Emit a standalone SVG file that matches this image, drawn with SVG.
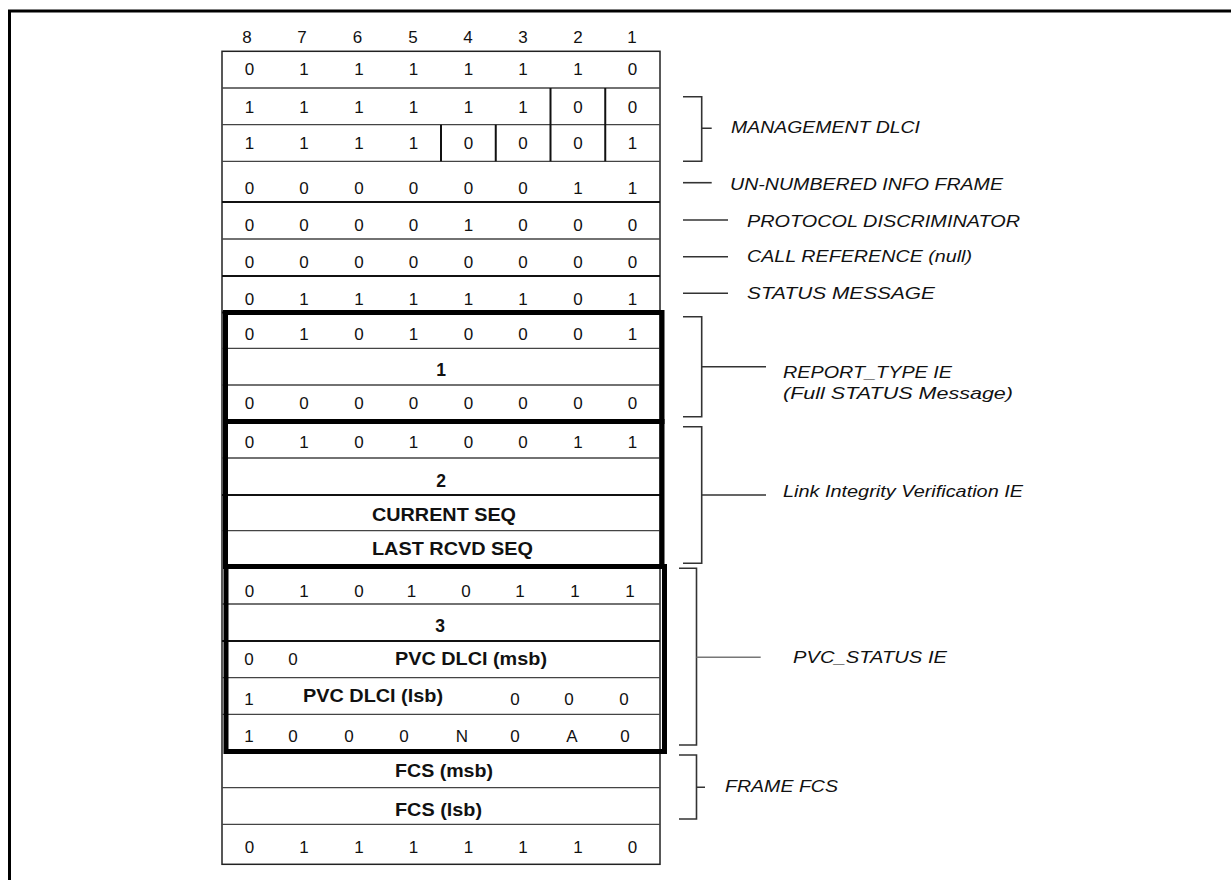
<svg xmlns="http://www.w3.org/2000/svg" width="1231" height="880" viewBox="0 0 1231 880">
<style>
.t{font-family:"Liberation Sans",Arial,sans-serif;font-size:17px;fill:#111;text-anchor:middle}
.b{font-weight:bold;font-size:17.5px}
.s{text-anchor:start}
.l{font-family:"Liberation Sans",Arial,sans-serif;font-size:16.5px;font-style:italic;fill:#111}
.rl{stroke:#444;stroke-width:1.3;fill:none}
.rd{stroke:#111;stroke-width:2;fill:none}
.bx{stroke:#000;stroke-width:5;fill:none}
.br{stroke:#333;stroke-width:1.6;fill:none}
</style>
<rect width="1231" height="880" fill="#fff"/>
<path id="frame" d="M9.5 880V11H1231" stroke="#000" stroke-width="3" fill="none"/>

<g id="header" class="t">
<text x="247" y="43">8</text><text x="302" y="43">7</text><text x="357.5" y="43">6</text><text x="413" y="43">5</text><text x="468" y="43">4</text><text x="523" y="43">3</text><text x="578" y="43">2</text><text x="632" y="43">1</text>
</g>

<g id="table">
<rect x="222" y="51.3" width="438" height="813" fill="none" stroke="#222" stroke-width="1.5"/>
<path class="rl" d="M222 88H660M222 124.7H660M222 161.3H660M222 239H660M222 348.3H660M222 385H660M222 458H660M222 530.7H660M222 604H660M222 677.7H660M222 714.3H660M222 787.7H660M222 824.3H660"/>
<path class="rd" d="M222 202H660M222 276H660M222 312.5H660M222 495H660M222 641H660"/>
<path class="rd" d="M550.5 88V161.3M605.25 88V161.3M441 124.7V161.3M495.75 124.7V161.3"/>
</g>

<g id="rows" class="t">
<g id="row1"><text x="249.4" y="75">0</text><text x="304.1" y="75">1</text><text x="358.9" y="75">1</text><text x="413.6" y="75">1</text><text x="468.4" y="75">1</text><text x="523.1" y="75">1</text><text x="577.9" y="75">1</text><text x="632.6" y="75">0</text></g>
<g id="row2"><text x="249.4" y="112.7">1</text><text x="304.1" y="112.7">1</text><text x="358.9" y="112.7">1</text><text x="413.6" y="112.7">1</text><text x="468.4" y="112.7">1</text><text x="523.1" y="112.7">1</text><text x="577.9" y="112.7">0</text><text x="632.6" y="112.7">0</text></g>
<g id="row3"><text x="249.4" y="149.3">1</text><text x="304.1" y="149.3">1</text><text x="358.9" y="149.3">1</text><text x="413.6" y="149.3">1</text><text x="468.4" y="149.3">0</text><text x="523.1" y="149.3">0</text><text x="577.9" y="149.3">0</text><text x="632.6" y="149.3">1</text></g>
<g id="row4"><text x="249.4" y="194">0</text><text x="304.1" y="194">0</text><text x="358.9" y="194">0</text><text x="413.6" y="194">0</text><text x="468.4" y="194">0</text><text x="523.1" y="194">0</text><text x="577.9" y="194">1</text><text x="632.6" y="194">1</text></g>
<g id="row5"><text x="249.4" y="230.7">0</text><text x="304.1" y="230.7">0</text><text x="358.9" y="230.7">0</text><text x="413.6" y="230.7">0</text><text x="468.4" y="230.7">1</text><text x="523.1" y="230.7">0</text><text x="577.9" y="230.7">0</text><text x="632.6" y="230.7">0</text></g>
<g id="row6"><text x="249.4" y="267.7">0</text><text x="304.1" y="267.7">0</text><text x="358.9" y="267.7">0</text><text x="413.6" y="267.7">0</text><text x="468.4" y="267.7">0</text><text x="523.1" y="267.7">0</text><text x="577.9" y="267.7">0</text><text x="632.6" y="267.7">0</text></g>
<g id="row7"><text x="249.4" y="304.5">0</text><text x="304.1" y="304.5">1</text><text x="358.9" y="304.5">1</text><text x="413.6" y="304.5">1</text><text x="468.4" y="304.5">1</text><text x="523.1" y="304.5">1</text><text x="577.9" y="304.5">0</text><text x="632.6" y="304.5">1</text></g>
</g>

<g id="report-type-ie" class="t">
<rect class="bx" x="225.5" y="312.5" width="436.5" height="109"/>
<text x="249.4" y="340">0</text><text x="304.1" y="340">1</text><text x="358.9" y="340">0</text><text x="413.6" y="340">1</text><text x="468.4" y="340">0</text><text x="523.1" y="340">0</text><text x="577.9" y="340">0</text><text x="632.6" y="340">1</text>
<text class="b" x="441" y="376">1</text>
<text x="249.4" y="409">0</text><text x="304.1" y="409">0</text><text x="358.9" y="409">0</text><text x="413.6" y="409">0</text><text x="468.4" y="409">0</text><text x="523.1" y="409">0</text><text x="577.9" y="409">0</text><text x="632.6" y="409">0</text>
</g>

<g id="link-integrity-ie" class="t">
<rect class="bx" x="225.5" y="421.5" width="436.5" height="145"/>
<text x="249.4" y="448">0</text><text x="304.1" y="448">1</text><text x="358.9" y="448">0</text><text x="413.6" y="448">1</text><text x="468.4" y="448">0</text><text x="523.1" y="448">0</text><text x="577.9" y="448">1</text><text x="632.6" y="448">1</text>
<text class="b" x="441" y="486.7">2</text>
<text class="b s" x="372" y="521" textLength="144" lengthAdjust="spacingAndGlyphs">CURRENT SEQ</text>
<text class="b s" x="372" y="555" textLength="161" lengthAdjust="spacingAndGlyphs">LAST RCVD SEQ</text>
</g>

<g id="pvc-status-ie" class="t">
<rect class="bx" x="226" y="566.5" width="438.5" height="185"/>
<text x="249.4" y="597">0</text><text x="304.1" y="597">1</text><text x="358.9" y="597">0</text><text x="411.5" y="597">1</text><text x="466" y="597">0</text><text x="520" y="597">1</text><text x="575" y="597">1</text><text x="630" y="597">1</text>
<text class="b" x="440" y="631.7">3</text>
<text x="249" y="665">0</text><text x="293" y="665">0</text>
<text class="b s" x="395" y="665" textLength="152" lengthAdjust="spacingAndGlyphs">PVC DLCI (msb)</text>
<text x="249" y="705">1</text>
<text class="b s" x="303" y="701.7" textLength="140" lengthAdjust="spacingAndGlyphs">PVC DLCI (lsb)</text>
<text x="515" y="705">0</text><text x="569" y="705">0</text><text x="624" y="705">0</text>
<text x="249" y="741.7">1</text><text x="293" y="741.7">0</text><text x="349" y="741.7">0</text><text x="404" y="741.7">0</text><text x="462" y="741.7">N</text><text x="515" y="741.7">0</text><text x="572" y="741.7">A</text><text x="625" y="741.7">0</text>
</g>

<g id="frame-fcs" class="t">
<text class="b s" x="395" y="776.7" textLength="98" lengthAdjust="spacingAndGlyphs">FCS (msb)</text>
<text class="b s" x="395" y="816" textLength="87" lengthAdjust="spacingAndGlyphs">FCS (lsb)</text>
</g>

<g id="row-last" class="t">
<text x="249.4" y="852.7">0</text><text x="304.1" y="852.7">1</text><text x="358.9" y="852.7">1</text><text x="413.6" y="852.7">1</text><text x="468.4" y="852.7">1</text><text x="523.1" y="852.7">1</text><text x="577.9" y="852.7">1</text><text x="632.6" y="852.7">0</text>
</g>

<g id="connectors" class="br">
<path d="M683 96.7H701.7V161.3H683M701.7 128.3H711.7"/>
<path d="M683 182.7H711.7"/>
<path d="M683 220H728"/>
<path d="M683 256.7H728"/>
<path d="M683 293.3H728"/>
<path d="M683 316.7H701.7V416.7H683M701.7 366.7H766"/>
<path d="M683 426.7H701.7V563.3H683M701.7 495H766"/>
<path d="M679 568.3H696.5V745H679"/>
<path d="M696.5 657.3H760.7" stroke="#777"/>
<path d="M679 755H696.5V819H679M696.5 787.3H705"/>
</g>

<g id="labels" class="l">
<text id="lbl-mgmt" x="731" y="133" textLength="189" lengthAdjust="spacingAndGlyphs">MANAGEMENT DLCI</text>
<text id="lbl-ui" x="730" y="190" textLength="273" lengthAdjust="spacingAndGlyphs">UN-NUMBERED INFO FRAME</text>
<text id="lbl-pd" x="747" y="226.5" textLength="273" lengthAdjust="spacingAndGlyphs">PROTOCOL DISCRIMINATOR</text>
<text id="lbl-cr" x="747" y="262" textLength="225" lengthAdjust="spacingAndGlyphs">CALL REFERENCE (null)</text>
<text id="lbl-sm" x="747" y="298.5" textLength="188" lengthAdjust="spacingAndGlyphs">STATUS MESSAGE</text>
<text id="lbl-rt" x="783" y="378" textLength="169" lengthAdjust="spacingAndGlyphs">REPORT_TYPE IE</text>
<text id="lbl-rt2" x="783" y="399" textLength="230" lengthAdjust="spacingAndGlyphs">(Full STATUS Message)</text>
<text id="lbl-liv" x="783" y="497" textLength="240" lengthAdjust="spacingAndGlyphs">Link Integrity Verification IE</text>
<text id="lbl-pvc" x="793" y="663" textLength="154" lengthAdjust="spacingAndGlyphs">PVC_STATUS IE</text>
<text id="lbl-fcs" x="725" y="792" textLength="113" lengthAdjust="spacingAndGlyphs">FRAME FCS</text>
</g>
</svg>
